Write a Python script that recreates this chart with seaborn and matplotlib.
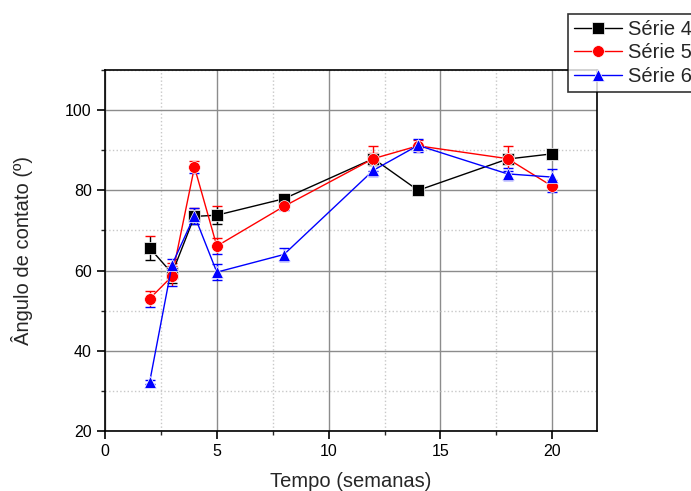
import pandas as pd
import matplotlib.pyplot as plt
import seaborn as sns
from matplotlib.ticker import MultipleLocator

# --- Data ---
tempo = [2, 3, 4, 5, 8, 12, 14, 18, 20]

serie4 = [65.6, 59.3, 73.5, 73.8, 77.9, 87.9, 80.0, 87.8, 89.1]
serie4_err = [3.0, 2.5, 2.0, 2.2, 1.2, 1.5, 1.2, 1.2, 0.6]

serie5 = [53.0, 58.6, 85.8, 66.1, 76.0, 87.9, 91.1, 87.9, 81.0]
serie5_err = [2.0, 2.5, 1.5, 2.0, 1.0, 3.2, 1.5, 3.2, 1.5]

serie6 = [32.3, 61.5, 73.7, 59.6, 64.0, 85.0, 91.2, 84.1, 83.3]
serie6_err = [0.5, 1.5, 2.0, 2.0, 1.5, 1.5, 1.5, 1.5, 2.0]

series_names = ['Série 4', 'Série 5', 'Série 6']
colors = ['black', 'red', 'blue']
markers = ['s', 'o', '^']

df = pd.DataFrame({
    'Tempo': tempo * 3,
    'Angulo': serie4 + serie5 + serie6,
    'Erro': serie4_err + serie5_err + serie6_err,
    'Serie': [n for n in series_names for _ in tempo],
})

# --- Plot ---
sns.set_style("white")
plt.rcParams['font.family'] = ['Liberation Sans', 'DejaVu Sans']

fig = plt.figure(figsize=(6.91, 4.91), dpi=100)
ax = fig.add_axes([105 / 691, 60 / 491, 492 / 691, 361 / 491])

# error bars first
for name, col in zip(series_names, colors):
    sub = df[df['Serie'] == name]
    ax.errorbar(sub['Tempo'], sub['Angulo'], yerr=sub['Erro'], fmt='none',
                ecolor=col, elinewidth=1, capsize=3.5, capthick=1, zorder=3)

sns.lineplot(data=df, x='Tempo', y='Angulo', hue='Serie', style='Serie',
             palette=colors, markers=markers, dashes=False, linewidth=1,
             markersize=8.5, markeredgewidth=0.5, ax=ax, zorder=4)
for line, col in zip(ax.get_lines(), colors):
    line.set_markeredgecolor(col)

ax.set_xlim(0, 22)
ax.set_ylim(20, 110)
ax.xaxis.set_major_locator(MultipleLocator(5))
ax.xaxis.set_minor_locator(MultipleLocator(2.5))
ax.yaxis.set_major_locator(MultipleLocator(20))
ax.yaxis.set_minor_locator(MultipleLocator(10))
ax.set_yticks([20, 40, 60, 80, 100])

ax.grid(which='major', color='#8c8c8c', linewidth=1, linestyle='-')
ax.grid(which='minor', color='#c8c8c8', linewidth=1, linestyle=':')
ax.set_axisbelow(True)

for sp in ax.spines.values():
    sp.set_color('black')
    sp.set_linewidth(1.2)

ax.tick_params(which='major', direction='out', length=6, width=1.2,
               labelsize=11.5, left=True, bottom=True, colors='black')
ax.tick_params(which='minor', direction='out', length=3, width=1,
               left=True, bottom=True)

ax.set_xlabel('Tempo (semanas)', fontsize=14.5, labelpad=9)
ax.set_ylabel('Ângulo de contato (º)', fontsize=14.5, labelpad=23)

# legend outside at top right
handles, labels = ax.get_legend_handles_labels()
ax.get_legend().remove()
leg = fig.legend(handles, labels, loc='upper left',
                 bbox_to_anchor=(568 / 691, 1 - 14 / 491),
                 fontsize=14.5, frameon=True, fancybox=False,
                 handlelength=2.4, handletextpad=0.3, borderpad=0.3,
                 labelspacing=0.22, borderaxespad=0)
leg.get_frame().set_edgecolor('black')
leg.get_frame().set_linewidth(1.2)

plt.savefig('out.png', dpi=100)
